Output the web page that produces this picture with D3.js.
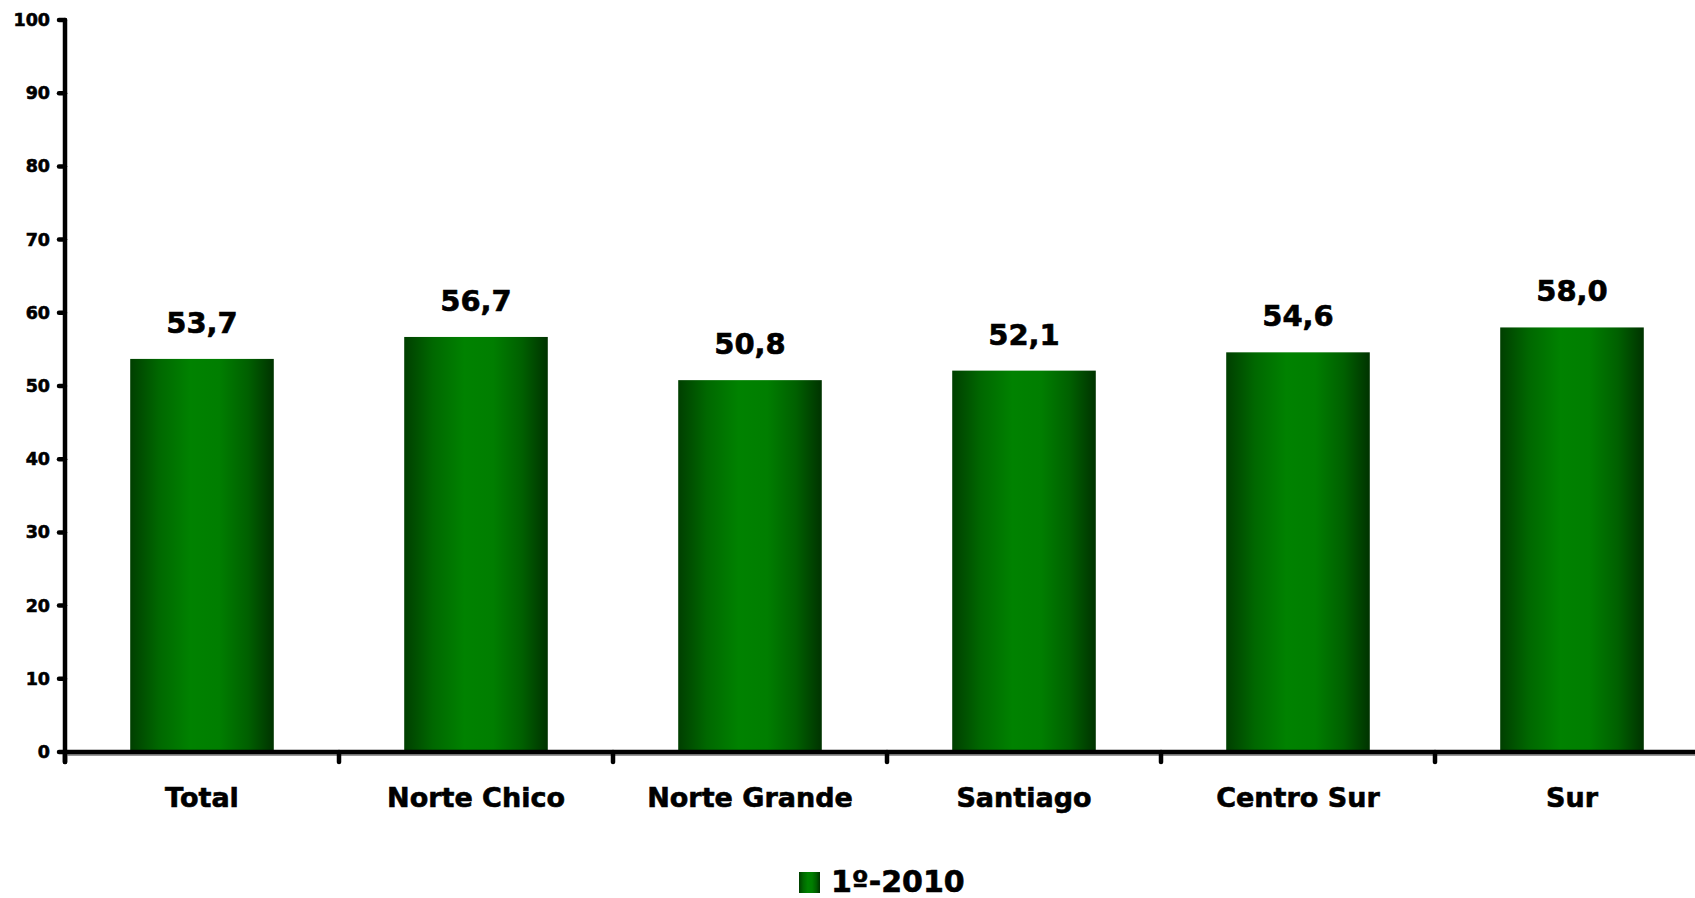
<!DOCTYPE html>
<html><head><meta charset="utf-8">
<script src="https://cdn.jsdelivr.net/npm/d3@7"></script>
<style>body{margin:0;background:#fff;overflow:hidden}svg{display:block}text{font-family:"DejaVu Sans",Verdana,sans-serif;font-weight:bold;fill:#000;stroke:#000;stroke-width:0.6px}</style>
</head><body>
<script>
const categories = ["Total","Norte Chico","Norte Grande","Santiago","Centro Sur","Sur"];
const values = [53.7,56.7,50.8,52.1,54.6,58.0];
const valueLabels = ["53,7","56,7","50,8","52,1","54,6","58,0"];
const yTicks = [0,10,20,30,40,50,60,70,80,90,100];
const seriesName = "1º-2010";

const W = 1695, H = 898;
const svg = d3.select("body").append("svg").attr("width", W).attr("height", H);
const defs = svg.append("defs");
const g = defs.append("linearGradient").attr("id","bar").attr("x1","0").attr("x2","1").attr("y1","0").attr("y2","0");
[[0,"#003f00"],[0.2,"#006800"],[0.42,"#008200"],[0.62,"#007e00"],[0.82,"#006000"],[1,"#003300"]]
  .forEach(([o,c])=>g.append("stop").attr("offset",o).attr("stop-color",c));

const x0 = 65, xEnd = 65 + 274*6;
const x = d3.scaleBand().domain(categories).range([x0, xEnd]).paddingInner(0.476).paddingOuter(0.238);
const y = d3.scaleLinear().domain([0,100]).range([752,20]);

// bars
svg.selectAll("rect.bar").data(values).enter().append("rect")
  .attr("x",(d,i)=>x(categories[i])).attr("width",x.bandwidth())
  .attr("y",d=>y(d)).attr("height",d=>y(0)-y(d)).attr("fill","url(#bar)");

// value labels
svg.selectAll("text.val").data(values).enter().append("text")
  .attr("x",(d,i)=>x(categories[i])+x.bandwidth()/2).attr("y",d=>y(d)-26)
  .attr("text-anchor","middle").attr("font-size",29).text((d,i)=>valueLabels[i]);

// y axis
const ya = svg.append("g");
ya.append("line").attr("x1",x0).attr("x2",x0).attr("y1",y(100)).attr("y2",762)
  .attr("stroke","#000").attr("stroke-width",4.5).attr("stroke-linecap","round");
ya.selectAll("line.t").data(yTicks).enter().append("line")
  .attr("x1",59).attr("x2",x0).attr("y1",d=>y(d)).attr("y2",d=>y(d))
  .attr("stroke","#000").attr("stroke-width",4.5).attr("stroke-linecap","round");
ya.selectAll("text").data(yTicks).enter().append("text")
  .attr("x",50).attr("y",d=>y(d)+6).attr("text-anchor","end").attr("font-size",17.5).text(d=>d);

// x axis
svg.append("line").attr("x1",x0).attr("x2",W).attr("y1",y(0)+3).attr("y2",y(0)+3)
  .attr("stroke","#999").attr("stroke-width",2);
svg.append("line").attr("x1",x0).attr("x2",W).attr("y1",y(0)).attr("y2",y(0))
  .attr("stroke","#000").attr("stroke-width",4.5);
const bounds = categories.map(c=>x(c)-x.step()*x.paddingInner()/2);
svg.selectAll("line.xt").data(bounds).enter().append("line")
  .attr("x1",d=>d).attr("x2",d=>d).attr("y1",y(0)).attr("y2",762)
  .attr("stroke","#000").attr("stroke-width",4.5).attr("stroke-linecap","round");
svg.selectAll("text.cat").data(categories).enter().append("text")
  .attr("x",d=>x(d)+x.bandwidth()/2).attr("y",807).attr("text-anchor","middle")
  .attr("font-size",27).text(d=>d);

// legend
svg.append("rect").attr("x",799).attr("y",872).attr("width",21).attr("height",21).attr("fill","url(#bar)");
svg.append("text").attr("x",831).attr("y",892).attr("font-size",30).text(seriesName);
</script>
</body></html>
